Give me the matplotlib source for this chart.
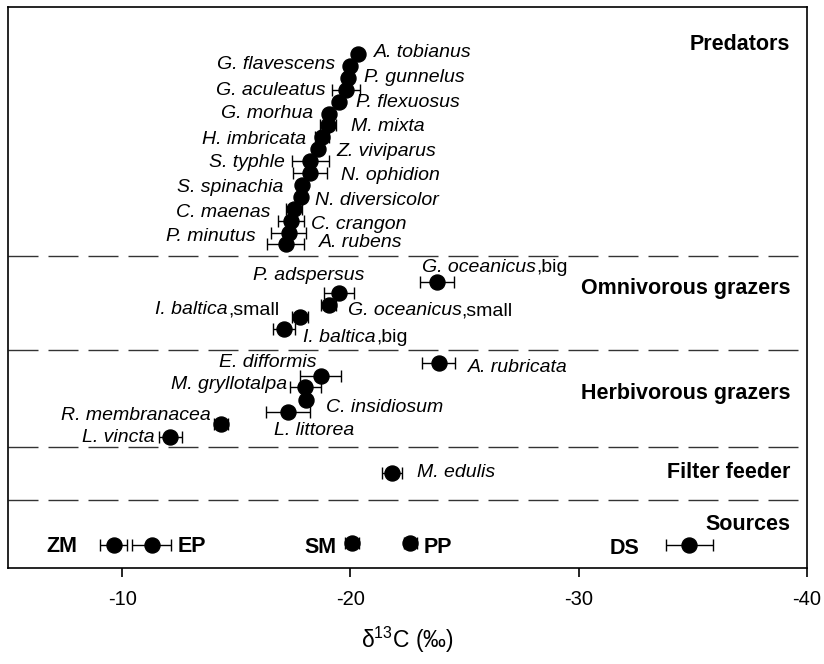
import matplotlib
matplotlib.use('Agg')
import matplotlib.pyplot as plt

plt.rcParams['font.family'] = ['Liberation Sans', 'DejaVu Sans']
plt.rcParams['mathtext.fontset'] = 'custom'
plt.rcParams['mathtext.rm'] = 'Liberation Sans'
plt.rcParams['mathtext.it'] = 'Liberation Sans:italic'
plt.rcParams['axes.unicode_minus'] = False

# --- data (d13C mean, sd, vertical plotting position) ---
pred_names = ['A. tobianus', 'G. flavescens', 'P. gunnelus', 'G. aculeatus',
              'P. flexuosus', 'G. morhua', 'M. mixta', 'H. imbricata',
              'Z. viviparus', 'S. typhle', 'N. ophidion', 'S. spinachia',
              'N. diversicolor', 'C. maenas', 'C. crangon', 'P. minutus',
              'A. rubens']
pred_d13c = [-20.32, -20.0, -19.88, -19.82, -19.49, -19.05, -19.01, -18.76,
             -18.57, -18.25, -18.22, -17.89, -17.84, -17.52, -17.40, -17.30,
             -17.16]
pred_sd = [0.15, 0.15, 0.15, 0.62, 0.15, 0.15, 0.35, 0.30,
           0.15, 0.82, 0.75, 0.15, 0.15, 0.36, 0.58, 0.77, 0.81]
pred_ypos = [514, 502, 490, 478, 466, 454, 443, 431, 419, 407, 395, 383,
             371, 359, 347, 335, 324]

omni_names = ['P. adspersus', 'G. oceanicus,big', 'G. oceanicus,small',
              'I. baltica,small', 'I. baltica,big']
omni_d13c = [-19.49, -23.79, -19.05, -17.80, -17.10]
omni_sd = [0.66, 0.73, 0.33, 0.36, 0.47]
omni_ypos = [275, 286, 263, 251, 239]

herb_names = ['E. difformis', 'A. rubricata', 'M. gryllotalpa', 'C. insidiosum',
              'L. littorea', 'R. membranacea', 'L. vincta']
herb_d13c = [-18.69, -23.87, -18.03, -18.06, -17.26, -14.34, -12.11]
herb_sd = [0.90, 0.73, 0.67, 0.15, 0.95, 0.30, 0.51]
herb_ypos = [192, 205, 181, 168, 156, 144, 131]

filt_names = ['M. edulis']
filt_d13c = [-21.82]
filt_sd = [0.42]
filt_ypos = [95]

src_names = ['ZM', 'EP', 'SM', 'PP', 'DS']
src_d13c = [-9.63, -11.30, -20.07, -22.63, -34.85]
src_sd = [0.60, 0.85, 0.30, 0.30, 1.03]
src_ypos = [23, 23, 25, 25, 23]

group_names = ['Predators', 'Omnivorous grazers', 'Herbivorous grazers',
               'Filter feeder', 'Sources']
group_ypos = [523, 279, 174, 95, 43]
divider_ypos = [312, 218, 121, 68]

# --- label layout (pixel offsets from the point, alignment) ---
pred_lab = [(16, 1, 'left'), (-15, 1, 'right'), (16, 0, 'left'), (-21, -1, 'right'),
            (17, -1, 'left'), (-16, 0, 'right'), (23, -2, 'left'), (-16, -3, 'right'),
            (19, -3, 'left'), (-26, -2, 'right'), (31, -3, 'left'), (-19, -3, 'right'),
            (14, -4, 'left'), (-23, -4, 'right'), (20, -4, 'left'), (-33, -4, 'right'),
            (33, 1, 'left')]
omni_lab = [(26, 17, 'right'), (-15, 14, 'left'), (19, -6, 'left'),
            (-21, 7, 'right'), (19, -9, 'left')]
herb_lab = [(-4, 13, 'right'), (29, -5, 'left'), (-18, 2, 'right'), (20, -8, 'left'),
            (-14, -19, 'left'), (-10, 8, 'right'), (-16, -1, 'right')]
filt_lab = [(25, 0, 'left')]
src_lab = [(-36, -2, 'right'), (26, -2, 'left'), (-15, -5, 'right'),
           (13, -5, 'left'), (-50, -4, 'right')]

fig = plt.figure(figsize=(8.24, 6.64), dpi=100)
ax = fig.add_axes([0.0097, 0.1446, 0.9697, 0.8449])


def species_label(name, x, y, dx, dy, ha):
    # italic species name, upright size class after the comma
    main, sep, rest = name.partition(',')
    it = dict(fontsize=14, fontstyle='italic')
    up = dict(fontsize=14)
    if not sep:
        ax.annotate(name, (x, y), xytext=(dx, dy), textcoords='offset pixels',
                    ha=ha, va='center', zorder=4, **it)
    elif ha == 'left':
        t = ax.annotate(main, (x, y), xytext=(dx, dy), textcoords='offset pixels',
                        ha='left', va='center', zorder=4, **it)
        ax.annotate(sep + rest, (1, 0), xycoords=t, ha='left', va='bottom',
                    zorder=4, **up)
    else:
        t = ax.annotate(sep + rest, (x, y), xytext=(dx, dy), textcoords='offset pixels',
                        ha='right', va='center', zorder=4, **up)
        ax.annotate(main, (0, 0), xycoords=t, ha='right', va='bottom',
                    zorder=4, **it)


def draw_group(names, d13c, sd, ypos, labs, italic=True):
    ax.errorbar(d13c, ypos, xerr=sd, fmt='o', color='k', ms=10.8,
                elinewidth=1.0, capsize=4.5, capthick=1.0, zorder=3)
    for name, x, y, (dx, dy, ha) in zip(names, d13c, ypos, labs):
        if italic:
            species_label(name, x, y, dx, dy, ha)
        else:
            ax.annotate(name, (x, y), xytext=(dx, dy), textcoords='offset pixels',
                        ha=ha, va='center', fontsize=15.5, fontweight='bold')


draw_group(pred_names, pred_d13c, pred_sd, pred_ypos, pred_lab)
draw_group(omni_names, omni_d13c, omni_sd, omni_ypos, omni_lab)
draw_group(herb_names, herb_d13c, herb_sd, herb_ypos, herb_lab)
draw_group(filt_names, filt_d13c, filt_sd, filt_ypos, filt_lab)
draw_group(src_names, src_d13c, src_sd, src_ypos, src_lab, italic=False)

for yd in divider_ypos:
    ax.axhline(yd, color='#333333', lw=1.0, dashes=(21.6, 7.2), zorder=1)

trans = ax.get_yaxis_transform()
for g, gy in zip(group_names, group_ypos):
    ax.text(0.979, gy, g, transform=trans, ha='right', va='center',
            fontsize=15.5, fontweight='bold')

ax.set_xlim(-5, -40)
ax.set_ylim(0, 561)
ax.set_xticks([-10, -20, -30, -40])
ax.set_yticks([])
ax.tick_params(axis='x', direction='out', length=6.5, width=1.2,
               labelsize=14.5, pad=9)
for sp in ax.spines.values():
    sp.set_linewidth(1.2)
ax.set_xlabel('δ$^{13}$C (‰)', fontsize=16.5, labelpad=12)

fig.savefig('out.png', dpi=100)
